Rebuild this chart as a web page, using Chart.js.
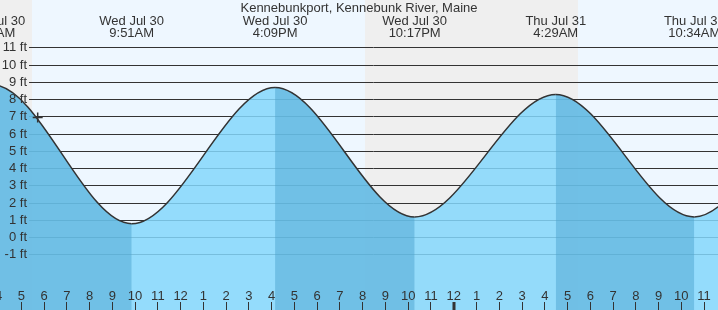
<!DOCTYPE html>
<html>
<head>
<meta charset="utf-8">
<script src="https://cdn.jsdelivr.net/npm/chart.js@4"></script>
<style>
  body { margin: 0; background: #fff; }
  #wrap { width: 718px; height: 310px; position: relative; }
</style>
</head>
<body>
<div id="wrap"><canvas id="tideChart"></canvas></div>
<script>
// hours counted from Wed Jul 30 00:00
const tideTimes = [-2.5, 3.75, 9.85, 16.15, 22.283, 28.483, 34.567, 40.8, 47.0];
const tideHeights = [1.0, 8.85, 0.8, 8.7, 1.2, 8.3, 1.2, 8.9, 1.0];
const tideDays = ['Tue Jul 29', 'Wed Jul 30', 'Wed Jul 30', 'Wed Jul 30', 'Wed Jul 30', 'Thu Jul 31', 'Thu Jul 31', 'Thu Jul 31', 'Thu Jul 31'];
const tideClock = ['9:30PM', '3:45AM', '9:51AM', '4:09PM', '10:17PM', '4:29AM', '10:34AM', '4:48PM', '11:00PM'];

const nowTime = [5.72];
const nowHeight = [6.96];

// sunrise, sunset, sunrise
const sunTimes = [5.45, 20.12, 29.48];

const hourTicks = [4, 5, 6, 7, 8, 9, 10, 11, 12, 13, 14, 15, 16, 17, 18, 19, 20, 21, 22, 23, 24,
  25, 26, 27, 28, 29, 30, 31, 32, 33, 34, 35];
const yTicks = [-1, 0, 1, 2, 3, 4, 5, 6, 7, 8, 9, 10, 11];

const title = 'Kennebunkport, Kennebunk River, Maine';

const FONT = '13px "Liberation Sans", Arial, sans-serif';
const TXT = '#333';
const RISING = 'rgba(132,215,251,0.85)';
const FALLING = 'rgba(76,164,208,0.5)'; // laid over the rising colour

function hourLabel(h) {
  let hh = ((h % 24) + 24) % 24;
  return String(((hh + 11) % 12) + 1);
}

const tidePlugin = {
  id: 'tideDecor',
  beforeDatasetsDraw(chart) {
    const ctx = chart.ctx;
    const xs = chart.scales.x, ys = chart.scales.y;
    const area = chart.chartArea;
    // sky: night / day
    ctx.save();
    ctx.fillStyle = '#efefef';
    ctx.fillRect(area.left, area.top, area.right - area.left, area.bottom - area.top);
    ctx.fillStyle = '#eef7ff';
    let x1 = Math.round(xs.getPixelForValue(sunTimes[0]));
    let x2 = Math.round(xs.getPixelForValue(sunTimes[1]));
    ctx.fillRect(x1, area.top, x2 - x1, area.bottom - area.top);
    let x3 = Math.round(xs.getPixelForValue(sunTimes[2]));
    ctx.fillRect(x3, area.top, area.right - x3, area.bottom - area.top);

    // horizontal lines
    ctx.strokeStyle = '#333';
    ctx.lineWidth = 1;
    yTicks.forEach(v => {
      const y = Math.floor(ys.getPixelForValue(v)) + 0.5;
      ctx.beginPath();
      ctx.moveTo(29, y);
      ctx.lineTo(area.right, y);
      ctx.stroke();
    });
    ctx.restore();
  },
  afterDatasetsDraw(chart) {
    const ctx = chart.ctx;
    const xs = chart.scales.x, ys = chart.scales.y;
    ctx.save();
    ctx.font = FONT;
    ctx.fillStyle = TXT;

    // y labels
    ctx.textAlign = 'right';
    ctx.textBaseline = 'middle';
    yTicks.forEach(v => {
      ctx.fillText(v + ' ft', 27, ys.getPixelForValue(v));
    });

    // hour ticks + labels
    ctx.textAlign = 'center';
    ctx.textBaseline = 'alphabetic';
    ctx.strokeStyle = '#333';
    hourTicks.forEach(h => {
      const x = xs.getPixelForValue(h);
      ctx.fillText(hourLabel(h), x, 300);
      const midnight = h % 24 === 0;
      ctx.lineWidth = midnight ? 3 : 1;
      const px = midnight ? Math.round(x) : Math.floor(x) + 0.5;
      ctx.beginPath();
      ctx.moveTo(px, 302);
      ctx.lineTo(px, 310);
      ctx.stroke();
    });

    // header
    ctx.fillText(title, 359, 12);
    tideTimes.forEach((t, i) => {
      const x = xs.getPixelForValue(t);
      ctx.fillText(tideDays[i], x, 25);
      ctx.fillText(tideClock[i], x, 37);
    });
    ctx.restore();
  }
};

const tidePoints = tideTimes.map((t, i) => ({ x: t, y: tideHeights[i] }));

new Chart(document.getElementById('tideChart'), {
  type: 'line',
  data: {
    datasets: [{
      label: 'now',
      data: nowTime.map((t, i) => ({ x: t, y: nowHeight[i] })),
      showLine: false,
      pointStyle: 'cross',
      pointRadius: 5,
      borderColor: '#333',
      borderWidth: 1.5
    }, {
      label: 'falling',
      data: tidePoints,
      borderColor: '#333',
      borderWidth: 1.5,
      pointRadius: 0,
      cubicInterpolationMode: 'monotone',
      fill: 'start',
      backgroundColor: 'rgba(0,0,0,0)',
      segment: {
        backgroundColor: c => tideHeights[c.p1DataIndex] < tideHeights[c.p0DataIndex]
          ? FALLING : 'rgba(0,0,0,0)'
      }
    }, {
      label: 'tide',
      data: tidePoints,
      borderWidth: 0,
      borderColor: 'rgba(0,0,0,0)',
      pointRadius: 0,
      cubicInterpolationMode: 'monotone',
      fill: 'start',
      backgroundColor: RISING
    }]
  },
  options: {
    responsive: true,
    maintainAspectRatio: false,
    animation: false,
    layout: { padding: 0, autoPadding: false },
    elements: { line: { capBezierPoints: false } },
    scales: {
      x: { type: 'linear', min: 4.0641, max: 35.611, display: false },
      y: { type: 'linear', min: -4.197, max: 13.774, display: false }
    },
    plugins: {
      legend: { display: false },
      tooltip: { enabled: false }
    }
  },
  plugins: [tidePlugin]
});
</script>
</body>
</html>
